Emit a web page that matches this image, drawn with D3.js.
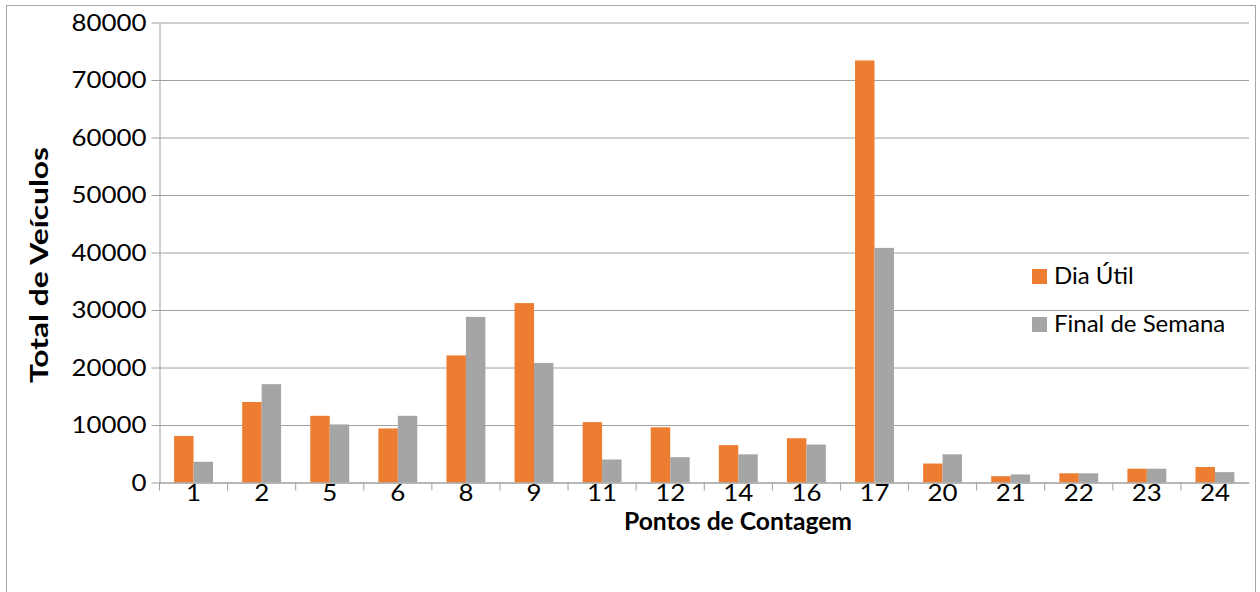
<!DOCTYPE html>
<html>
<head>
  <meta charset="utf-8">
  <script src="https://cdnjs.cloudflare.com/ajax/libs/d3/7.8.5/d3.min.js"></script>
  <style>
    body { margin: 0; background: #fff; }
    text { font-family: Lato, "Open Sans", sans-serif; fill: #000; }
    .axis path, .axis line { stroke: #a0a0a0; }
    .grid line { stroke: #a0a0a0; }
    .grid path { display: none; }
  </style>
</head>
<body>
<svg width="1260" height="592"></svg>
<script>
var pontos    = ["1", "2", "5", "6", "8", "9", "11", "12", "14", "16", "17", "20", "21", "22", "23", "24"];
var diaUtil   = [8100, 14000, 11600, 9400, 22100, 31200, 10500, 9600, 6500, 7700, 73400, 3300, 1100, 1600, 2400, 2700];
var fimSemana = [3600, 17100, 10100, 11600, 28800, 20800, 4000, 4400, 4900, 6600, 40800, 4900, 1400, 1600, 2400, 1800];
var yTicks    = [0, 10000, 20000, 30000, 40000, 50000, 60000, 70000, 80000];
var seriesNames  = ["Dia Útil", "Final de Semana"];
var seriesColors = ["#ED7D31", "#A5A5A5"];

var svg = d3.select("svg");

// outer chart frame
svg.append("rect")
  .attr("x", 6.5).attr("y", 5.5)
  .attr("width", 1249).attr("height", 600)
  .attr("fill", "none")
  .attr("stroke", "#a6a6a6");

var plotLeft = 159.5, plotRight = 1249, plotTop = 22.5, plotBottom = 482.5;
var digitW = 15;   // digits in the original are drawn wide

var x = d3.scaleBand()
  .domain(pontos)
  .range([plotLeft, plotRight]);

var y = d3.scaleLinear()
  .domain([0, 80000])
  .range([plotBottom, plotTop]);

// two bars per category, gap width 150%
var barW = x.bandwidth() / 3.5,
    gapL = barW * 0.75;

// gridlines
svg.append("g")
  .attr("class", "grid")
  .attr("transform", "translate(" + plotLeft + ",0)")
  .call(d3.axisLeft(y).tickValues(yTicks).tickSize(-(plotRight - plotLeft)).tickFormat(""));

// y axis with outside ticks
var yAxis = svg.append("g")
  .attr("class", "axis")
  .attr("transform", "translate(" + plotLeft + ",0)")
  .call(d3.axisLeft(y).tickValues(yTicks).tickSize(8).tickSizeOuter(0).tickPadding(5).tickFormat(d3.format("d")));
yAxis.selectAll("text")
  .style("font-size", "24px")
  .attr("textLength", function(d) { return String(d).length * digitW; })
  .attr("lengthAdjust", "spacingAndGlyphs");

// bars
var data = pontos.map(function(p, i) { return [diaUtil[i], fimSemana[i]]; });

var groups = svg.selectAll(".ponto")
  .data(data)
  .enter().append("g")
    .attr("class", "ponto")
    .attr("transform", function(d, i) { return "translate(" + x(pontos[i]) + ",0)"; });

groups.selectAll("rect")
  .data(function(d) { return d; })
  .enter().append("rect")
    .attr("x", function(d, j) { return gapL + j * barW; })
    .attr("y", function(d) { return y(d); })
    .attr("width", barW)
    .attr("height", function(d) { return plotBottom - y(d); })
    .attr("fill", function(d, j) { return seriesColors[j]; });

// x axis: labels at centres, ticks on band edges
var xAxis = svg.append("g")
  .attr("class", "axis")
  .attr("transform", "translate(0," + plotBottom + ")")
  .call(d3.axisBottom(x).tickSize(0).tickPadding(2));
xAxis.selectAll("text")
  .style("font-size", "23px")
  .attr("textLength", function(d) { return d.length * digitW; })
  .attr("lengthAdjust", "spacingAndGlyphs");

xAxis.selectAll(".edge")
  .data(pontos)
  .enter().append("line")
    .attr("class", "edge")
    .attr("x1", function(d) { return x(d); })
    .attr("x2", function(d) { return x(d); })
    .attr("y1", 0)
    .attr("y2", 8);

// axis titles
svg.append("text")
  .attr("x", 738)
  .attr("y", 530)
  .attr("text-anchor", "middle")
  .style("font-size", "24px")
  .style("font-weight", "bold")
  .attr("textLength", 228)
  .attr("lengthAdjust", "spacingAndGlyphs")
  .text("Pontos de Contagem");

svg.append("text")
  .attr("transform", "translate(48,265) rotate(-90)")
  .attr("text-anchor", "middle")
  .style("font-size", "25px")
  .style("font-weight", "bold")
  .attr("textLength", 236)
  .attr("lengthAdjust", "spacingAndGlyphs")
  .text("Total de Veículos");

// legend
var legend = svg.selectAll(".legend")
  .data(seriesNames)
  .enter().append("g")
    .attr("class", "legend")
    .attr("transform", function(d, i) { return "translate(1032," + (269 + i * 48) + ")"; });

legend.append("rect")
  .attr("width", 15)
  .attr("height", 15)
  .attr("fill", function(d, i) { return seriesColors[i]; });

legend.append("text")
  .attr("x", 22)
  .attr("y", 15)
  .style("font-size", "24px")
  .text(function(d) { return d; });
</script>
</body>
</html>
